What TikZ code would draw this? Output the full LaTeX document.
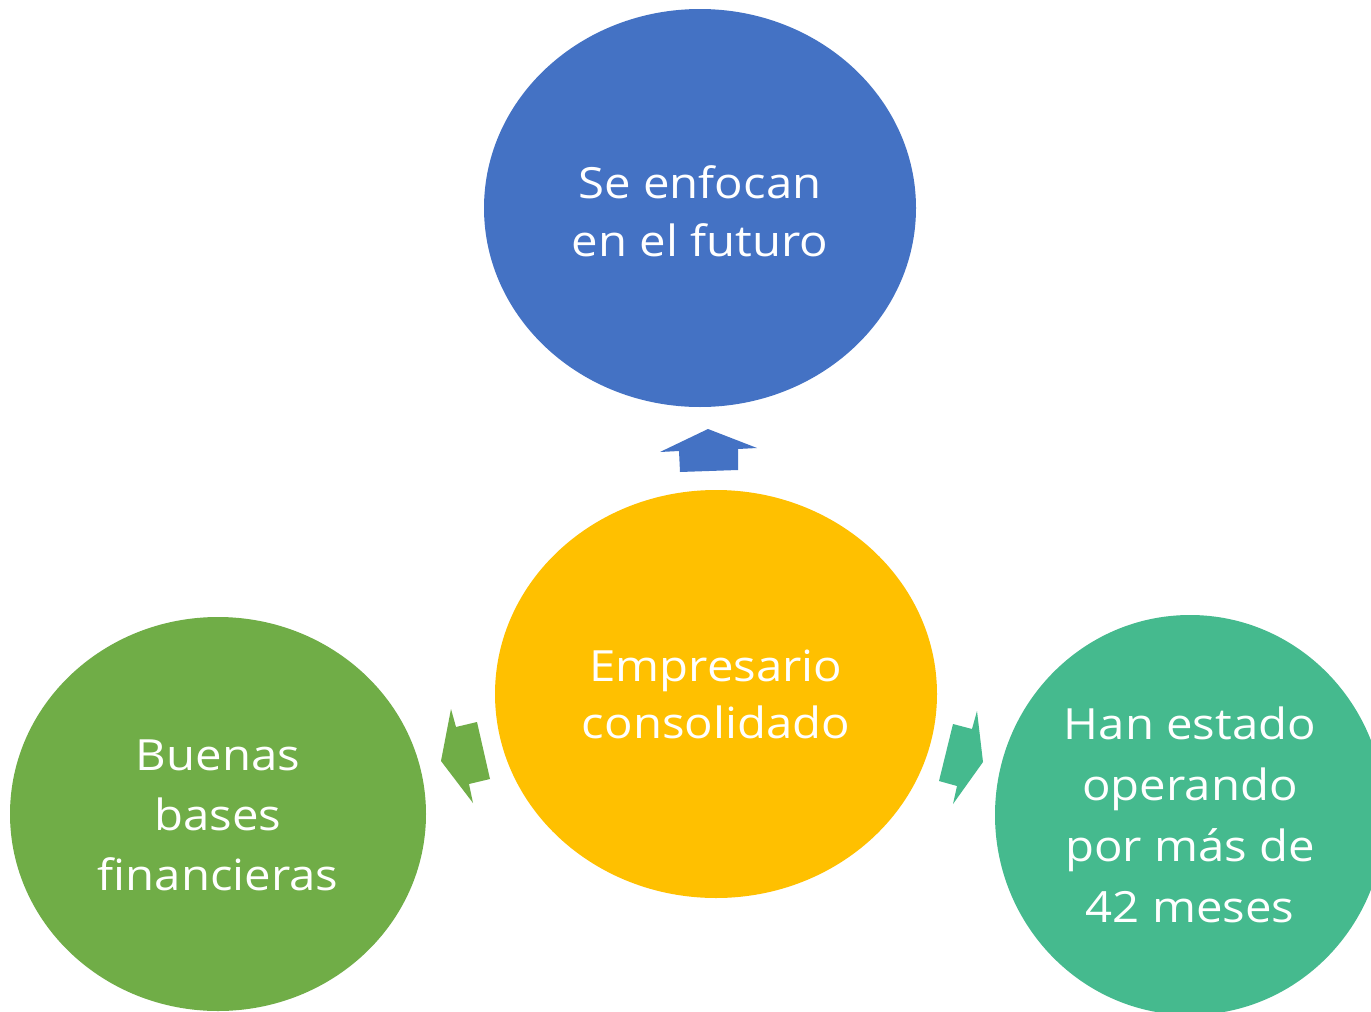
\documentclass[tikz,border=0pt]{standalone}
\usepackage{fontspec}
\setmainfont{Open Sans}[Ligatures=CommonOff, FakeStretch=1.1]
\usetikzlibrary{shapes.geometric}
\definecolor{cblue}{HTML}{4472C4}
\definecolor{cgold}{HTML}{FFC000}
\definecolor{cgreen}{HTML}{70AD47}
\definecolor{cteal}{HTML}{45BA8E}
\begin{document}
\begin{tikzpicture}[x=1pt,y=-1pt,
  bub/.style={ellipse, inner sep=0pt, outer sep=0pt, text=white, align=center,
    font=\fontsize{43}{60}\selectfont}]
\useasboundingbox (0,0) rectangle (1371,1012);
\clip (0,0) rectangle (1371,1012);
\fill[white] (0,0) rectangle (1371,1012);
\node[bub, fill=cblue, minimum width=432pt, minimum height=398pt] (top) at (700,208) {};
\node[bub, fill=cgold, minimum width=442pt, minimum height=408pt] (mid) at (716,694) {};
\node[bub, fill=cgreen, minimum width=416pt, minimum height=394pt] (left) at (218,814) {};
\node[bub, fill=cteal, minimum width=390pt, minimum height=400pt] (right) at (1190,815) {};
\node[bub, font=\fontsize{43}{58}\selectfont] (toptxt) at (700,211) {Se enfocan\\en el futuro};
\node[bub, font=\fontsize{43}{57}\selectfont] (midtxt) at (716,694) {Empresario\\consolidado};
\node[bub] (lefttxt) at (218,815) {Buenas\\bases\\financieras};
\node[bub, font=\fontsize{43}{61}\selectfont] (righttxt) at (1190,815) {Han estado\\operando\\por más de\\42 meses};
% block arrows
\fill[cblue] (708,429) -- (757,448) -- (738,449) -- (738,470) -- (680,472) -- (679,451) -- (660,452) -- cycle;
\fill[cgreen] (441,761) -- (451,709) -- (456,727) -- (477,722) -- (490,779) -- (469,784) -- (473,803) -- cycle;
\fill[cteal] (983,762) -- (977,711) -- (972,729) -- (953,724) -- (939,781) -- (957,786) -- (953,804) -- cycle;
\end{tikzpicture}
\end{document}
